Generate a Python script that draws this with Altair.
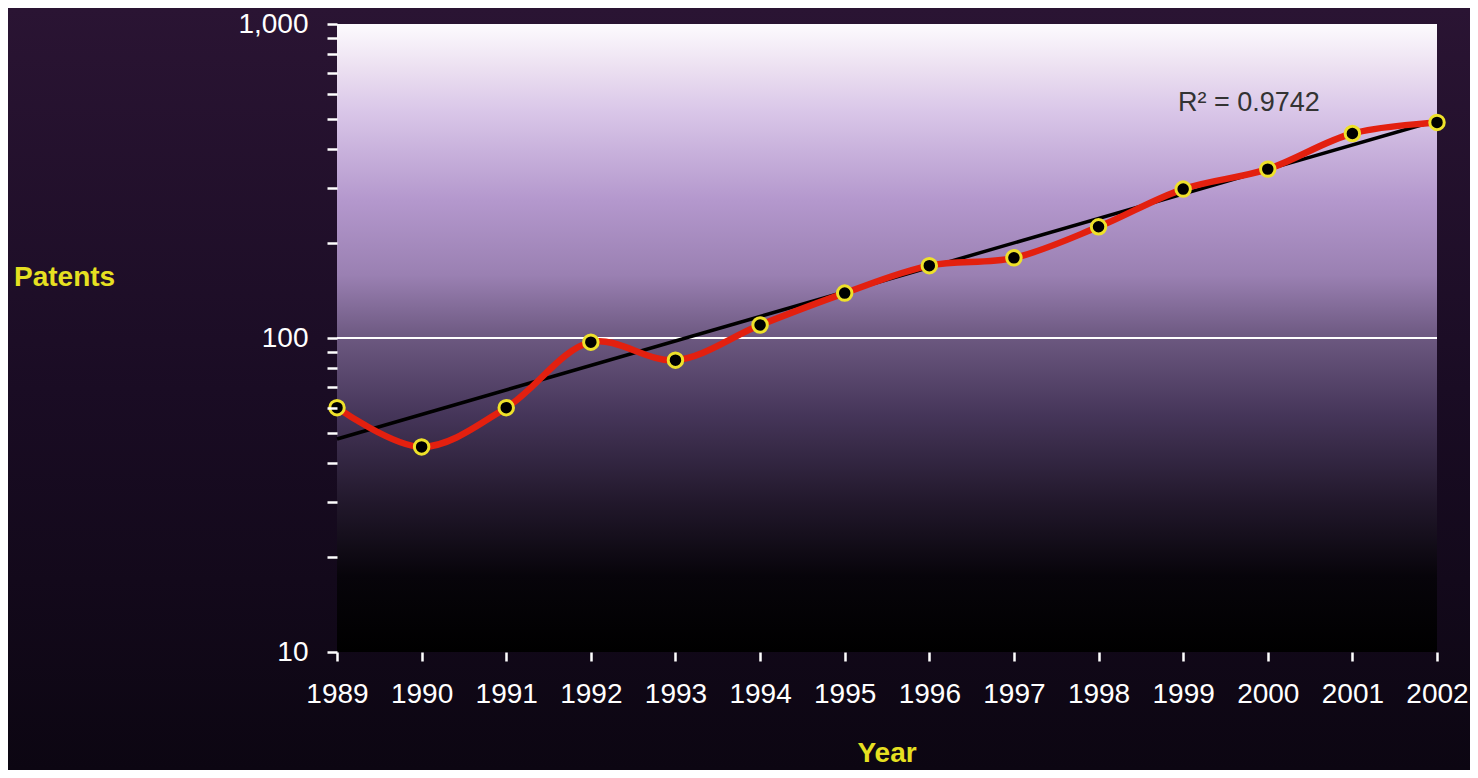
import altair as alt
import pandas as pd

# ---- data ----
years = [1989, 1990, 1991, 1992, 1993, 1994, 1995, 1996, 1997, 1998, 1999, 2000, 2001, 2002]
patents = [60, 45, 60, 97, 85, 110, 139, 170, 180, 226, 298, 345, 448, 486]
trend_years = [1989, 2002]
trend_patents = [47.7, 493]
gridline_values = [100]
major_ticks = [10, 100, 1000]
minor_ticks = [20, 30, 40, 50, 60, 70, 80, 90, 200, 300, 400, 500, 600, 700, 800, 900]
r2_label = "R\u00b2 = 0.9742"
y_title = "Patents"
x_title = "Year"

FONT = "Liberation Sans"
W, H = 1100, 628
PAD = {"left": 329, "top": 16, "right": 33, "bottom": 118}
OX, OY = 8 + PAD["left"], 8 + PAD["top"]  # page position of plot origin

df = pd.DataFrame({"Year": years, "Patents": patents})
trend = pd.DataFrame({"Year": trend_years, "Patents": trend_patents})
grid = pd.DataFrame({"Patents": gridline_values})
one = pd.DataFrame({"k": [0]})

x_scale = alt.Scale(domain=[1989, 2002], nice=False, zero=False)
y_scale = alt.Scale(type="log", domain=[10, 1000], nice=False)

x_axis = alt.Axis(values=years, format="d", title=None, grid=False, domain=False,
                  tickColor="white", tickSize=9, tickWidth=2.5,
                  labelColor="white", labelFontSize=28, labelFont=FONT,
                  labelPadding=19, labelFlush=False, labelOverlap=False, zindex=2)
y_axis = alt.Axis(values=sorted(major_ticks + minor_ticks), title=None, grid=False, domain=False,
                  labelExpr="(datum.value == 10 || datum.value == 100 || datum.value == 1000) ? format(datum.value, ',') : ''",
                  tickColor="white", tickSize=10, tickWidth=2.5,
                  labelColor="white", labelFontSize=28, labelFont=FONT,
                  labelPadding=19, labelOverlap=False, zindex=2)

X = alt.X("Year:Q", scale=x_scale, axis=x_axis)
Y = alt.Y("Patents:Q", scale=y_scale, axis=y_axis)

page_bg = alt.Chart(one).mark_rect(
    color=alt.LinearGradient(gradient="linear", x1=0, x2=0, y1=0, y2=1, stops=[
        alt.GradientStop(offset=0, color="#2a1433"),
        alt.GradientStop(offset=0.5, color="#1a0c24"),
        alt.GradientStop(offset=1, color="#0c0612"),
    ])
).encode(x=alt.value(-PAD["left"]), x2=alt.value(W + PAD["right"]),
         y=alt.value(-PAD["top"]), y2=alt.value(H + PAD["bottom"]))

plot_bg = alt.Chart(one).mark_rect(
    color=alt.LinearGradient(gradient="linear", x1=0, x2=0, y1=0, y2=1, stops=[
        alt.GradientStop(offset=0, color="#fdfbfe"),
        alt.GradientStop(offset=0.07, color="#ece0f1"),
        alt.GradientStop(offset=0.14, color="#d9c6e8"),
        alt.GradientStop(offset=0.28, color="#b498cd"),
        alt.GradientStop(offset=0.40, color="#9a80b2"),
        alt.GradientStop(offset=0.5, color="#6c5880"),
        alt.GradientStop(offset=0.62, color="#46365a"),
        alt.GradientStop(offset=0.76, color="#22182c"),
        alt.GradientStop(offset=0.88, color="#07040a"),
        alt.GradientStop(offset=1, color="#000000"),
    ])
).encode(x=alt.value(0), x2=alt.value(W), y=alt.value(0), y2=alt.value(H))

rule = alt.Chart(grid).mark_rule(color="white", strokeWidth=2).encode(
    y=Y, x=alt.value(0), x2=alt.value(W))

trend_line = alt.Chart(trend).mark_line(color="black", strokeWidth=3.5).encode(x=X, y=Y)

red_line = alt.Chart(df).mark_line(color="#e3200f", strokeWidth=6.5, interpolate="catmull-rom").encode(x=X, y=Y)

points = alt.Chart(df).mark_point(shape="circle", filled=True, size=210, fill="black",
                                  stroke="#eee12a", strokeWidth=3, opacity=1).encode(x=X, y=Y)

r2 = alt.Chart(one).mark_text(text=r2_label, font=FONT, fontSize=27, color="#333333",
                              align="left", baseline="middle").encode(
    x=alt.value(1178 - OX), y=alt.value(103 - OY))

ytitle = alt.Chart(one).mark_text(text=y_title, font=FONT, fontSize=28, fontWeight="bold",
                                  color="#e6e021", align="left", baseline="middle").encode(
    x=alt.value(14 - OX), y=alt.value(278 - OY))

xtitle = alt.Chart(one).mark_text(text=x_title, font=FONT, fontSize=28, fontWeight="bold",
                                  color="#e6e021", align="center", baseline="middle").encode(
    x=alt.value(887 - OX), y=alt.value(754 - OY))

chart = alt.layer(page_bg, plot_bg, rule, trend_line, red_line, points, r2, ytitle, xtitle).properties(
    width=W, height=H, padding=PAD, autosize="none", background="#1a0c22"
).configure_view(stroke=None)

chart.save("out.html", embed_options={"renderer": "svg", "actions": False})
